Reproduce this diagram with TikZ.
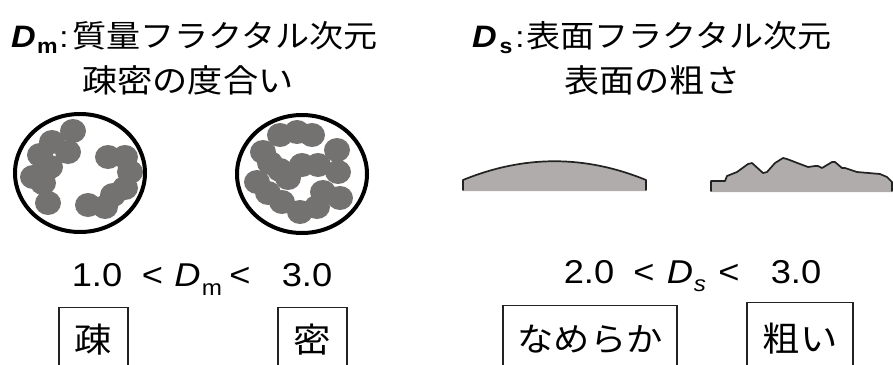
\documentclass[tikz,border=0pt]{standalone}
\usepackage{fontspec}
\usepackage{graphicx}
\usetikzlibrary{shapes.geometric}
\setmainfont{Liberation Sans}
\newfontfamily\jpfont{Noto Sans CJK JP}
% every label is set 10% wider than its font
\newcommand{\widetext}[1]{\scalebox{1.1}[1]{#1}}
\newcommand{\fs}[1]{\fontsize{#1}{#1}\selectfont}
\definecolor{blobgray}{RGB}{116,113,113}
\definecolor{crustgray}{RGB}{176,172,171}
\definecolor{inkgray}{RGB}{34,34,34}

\begin{document}
\begin{tikzpicture}[x=1pt,y=-1pt,
  txt/.style={inner sep=0pt, anchor=base},
  txtw/.style={inner sep=0pt, anchor=base west},
  ring/.style={draw=black, line width=4pt},
  blob/.style={fill=blobgray, draw=none},
  crustfill/.style={fill=crustgray, draw=none},
  crustline/.style={draw=inkgray, line width=1.7pt, line join=round, line cap=round},
  tag/.style={draw=inkgray, line width=1.2pt, inner sep=0pt, anchor=north,
              text depth=30pt, align=center}]
\useasboundingbox (0,0) rectangle (893,364);
\begin{scope}
\clip (0,0) rectangle (893,364);

% ---------- headings ----------
\node[txt] (dmD) at (23.5,47) {\widetext{\fs{31}\bfseries\itshape D}};
\node[txt] (dmSub) at (47.5,53) {\widetext{\fs{21}\bfseries m}};
\node[txt] (dmColon) at (64,47) {\widetext{\fs{30}:}};
\node[txtw] (dmTitle) at (72,47) {\widetext{\fs{31}\jpfont 質量フラクタル次元}};
\node[txtw] (dmSubtitle) at (82,92) {\widetext{\fs{32}\jpfont 疎密の度合い}};

\node[txt] (dsD) at (484.5,47) {\widetext{\fs{31}\bfseries\itshape D}};
\node[txt] (dsSub) at (506,53) {\widetext{\fs{21}\bfseries s}};
\node[txt] (dsColon) at (520,47) {\widetext{\fs{30}:}};
\node[txtw] (dsTitle) at (526,47) {\widetext{\fs{31}\jpfont 表面フラクタル次元}};
\node[txtw] (dsSubtitle) at (564,92) {\widetext{\fs{32}\jpfont 表面の粗さ}};

% ---------- mass fractal: sparse cluster ----------
\node[ring, ellipse, minimum width=130, minimum height=118, inner sep=0pt] (sparse) at (80,173) {};
\foreach \x/\y in {73/131, 52/142, 68/152, 40/155, 50/167, 33/177, 43/183, 48/203,
                   108/157, 125/157, 130/172, 125/188, 113/195, 105/207, 88/205}
  \fill[blob] (\x,\y) ellipse [x radius=13, y radius=12];

% ---------- mass fractal: dense cluster ----------
\node[ring, ellipse, minimum width=130, minimum height=118, inner sep=0pt] (dense) at (302,174) {};
\foreach \x/\y in {280/135, 297/132, 312/135, 263/152, 270/163, 280/170, 302/165,
                   318/165, 337/150, 338/172, 288/178, 257/182, 268/193, 282/202,
                   300/212, 317/207, 323/192, 340/198}
  \fill[blob] (\x,\y) ellipse [x radius=13, y radius=12];

% ---------- surface fractal: smooth profile ----------
\fill[crustfill] (463,191) -- (463,180) .. controls (524,155) and (585,155) .. (646,180)
  -- (646,191) -- cycle;
\draw[crustline] (463,190) -- (463,180) .. controls (524,155) and (585,155) .. (646,180)
  -- (646,190);

% ---------- surface fractal: rough profile ----------
\fill[crustfill] (711,192) -- (711,181) -- (725,181) -- (727,176) -- (737,172) -- (748,164)
  -- (752,163) -- (763,173) -- (767,172) -- (775,163) -- (783,158) -- (787,159)
  -- (800,164) -- (808,167) -- (815,166) -- (818,166) -- (822,168) -- (832,162)
  -- (835,162) -- (842,168) -- (845,168) -- (857,172) -- (880,174) -- (887,177)
  -- (892,182) -- (892,192) -- cycle;
\draw[crustline] (711,191) -- (711,181) -- (725,181) -- (727,176) -- (737,172) -- (748,164)
  -- (752,163) -- (763,173) -- (767,172) -- (775,163) -- (783,158) -- (787,159)
  -- (800,164) -- (808,167) -- (815,166) -- (818,166) -- (822,168) -- (832,162)
  -- (835,162) -- (842,168) -- (845,168) -- (857,172) -- (880,174) -- (887,177)
  -- (892,182) -- (892,191);

% ---------- ranges ----------
\node[txt] (dmLow) at (97,286) {\widetext{\fs{33}1.0}};
\node[txt] (dmLt1) at (152.5,286) {\widetext{\fs{33}<}};
\node[txt] (dmVar) at (187.5,286) {\widetext{\fs{33}\itshape D}};
\node[txt] (dmVarSub) at (212,295) {\widetext{\fs{22}m}};
\node[txt] (dmLt2) at (240,286) {\widetext{\fs{33}<}};
\node[txt] (dmHigh) at (307,286) {\widetext{\fs{33}3.0}};

\node[txt] (dsLow) at (589,283) {\widetext{\fs{33}2.0}};
\node[txt] (dsLt1) at (644,283) {\widetext{\fs{33}<}};
\node[txt] (dsVar) at (680,283) {\widetext{\fs{33}\itshape D}};
\node[txt] (dsVarSub) at (700,291) {\widetext{\fs{22}\itshape s}};
\node[txt] (dsLt2) at (729,283) {\widetext{\fs{33}<}};
\node[txt] (dsHigh) at (796,283) {\widetext{\fs{33}3.0}};

% ---------- verdict tags (open at the lower edge) ----------
\node[tag, minimum width=69, text height=45pt] (sparseTag) at (93.5,307)
  {\widetext{\fs{34}\jpfont 疎}};
\node[tag, minimum width=69, text height=45pt] (denseTag) at (312.5,307)
  {\widetext{\fs{34}\jpfont 密}};
\node[tag, minimum width=174, text height=46pt] (smoothTag) at (590,305)
  {\widetext{\fs{33}\jpfont なめらか}};
\node[tag, minimum width=106, text height=49pt] (roughTag) at (800,302)
  {\widetext{\fs{34}\jpfont 粗い}};
\end{scope}
\end{tikzpicture}
\end{document}
